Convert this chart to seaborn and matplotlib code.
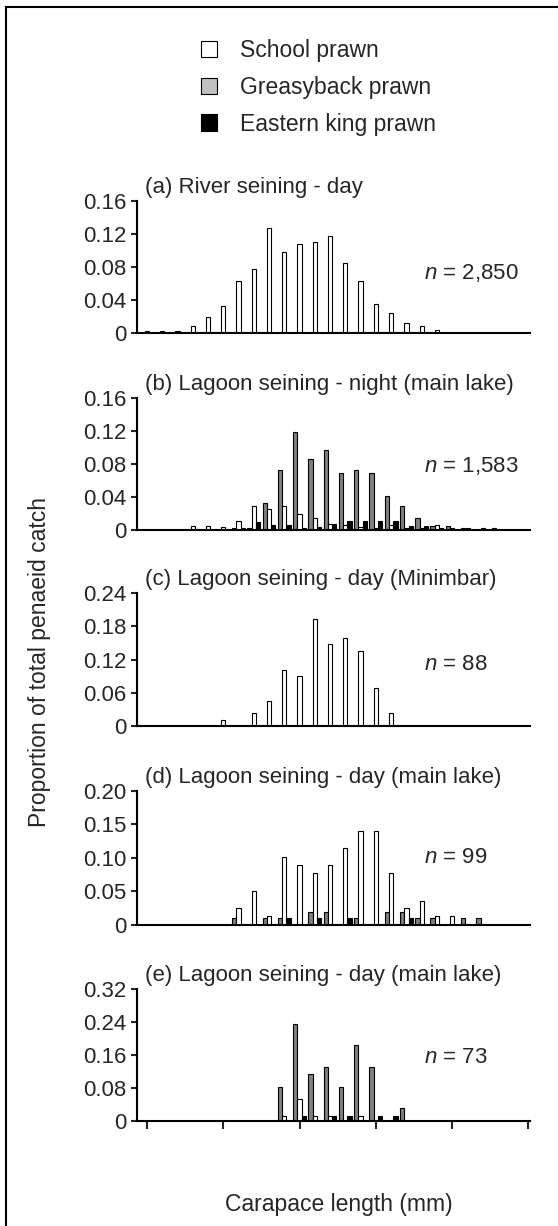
import matplotlib
matplotlib.use("Agg")
import matplotlib.pyplot as plt
from matplotlib.patches import Patch, Rectangle
import seaborn as sns
import pandas as pd
import numpy as np

sns.set_style("ticks")
plt.rcParams['font.family'] = ['Liberation Sans', 'DejaVu Sans']
plt.rcParams['mathtext.fontset'] = 'custom'
plt.rcParams['mathtext.it'] = 'Liberation Sans:italic'
plt.rcParams['mathtext.rm'] = 'Liberation Sans'

species = ["Greasyback prawn", "School prawn", "Eastern king prawn"]
legend_order = ["School prawn", "Greasyback prawn", "Eastern king prawn"]
bar_colors = {"School prawn": "#ffffff", "Greasyback prawn": "#808080", "Eastern king prawn": "#000000"}
legend_colors = {"School prawn": "#ffffff", "Greasyback prawn": "#c0c0c0", "Eastern king prawn": "#000000"}

n_bins = 26
bins = list(range(n_bins))
x_ticks = [0, 5, 10, 15, 20, 25]

titles = ["(a) River seining - day",
          "(b) Lagoon seining - night (main lake)",
          "(c) Lagoon seining - day (Minimbar)",
          "(d) Lagoon seining - day (main lake)",
          "(e) Lagoon seining - day (main lake)"]
n_labels = ["2,850", "1,583", "88", "99", "73"]
y_tops = [0.16, 0.16, 0.24, 0.20, 0.32]
y_ticks = [[0, 0.04, 0.08, 0.12, 0.16],
           [0, 0.04, 0.08, 0.12, 0.16],
           [0, 0.06, 0.12, 0.18, 0.24],
           [0, 0.05, 0.10, 0.15, 0.20],
           [0, 0.08, 0.16, 0.24, 0.32]]
y_ticklabels = [["0", "0.04", "0.08", "0.12", "0.16"],
                ["0", "0.04", "0.08", "0.12", "0.16"],
                ["0", "0.06", "0.12", "0.18", "0.24"],
                ["0", "0.05", "0.10", "0.15", "0.20"],
                ["0", "0.08", "0.16", "0.24", "0.32"]]

# (a) River seining - day : bins 0..19
a_bins = list(range(20))
a_school = [0.003, 0.0025, 0.0025, 0.009, 0.020, 0.033, 0.063, 0.078, 0.127, 0.098,
            0.108, 0.110, 0.117, 0.085, 0.063, 0.035, 0.024, 0.0125, 0.009, 0.004]

# (b) Lagoon seining - night (main lake) : bins 3..23
b_bins = list(range(3, 24))
b_greasy = [0, 0, 0, 0.002, 0.003, 0.033, 0.073, 0.119, 0.0855, 0.097, 0.0686,
            0.073, 0.0686, 0.041, 0.029, 0.015, 0.005, 0.005, 0.002, 0, 0.002]
b_school = [0.005, 0.005, 0.0035, 0.0105, 0.029, 0.026, 0.0295, 0.019, 0.015, 0.0073, 0.0065,
            0.004, 0.0025, 0.0065, 0.002, 0.002, 0.0065, 0.002, 0.002, 0.003, 0]
b_king = [0, 0, 0, 0.003, 0.0095, 0.006, 0.0065, 0.003, 0.004, 0.007, 0.0105,
          0.0105, 0.0105, 0.0105, 0.005, 0.005, 0.002, 0, 0, 0, 0]

# (c) Lagoon seining - day (Minimbar) : bins 5..16
c_bins = list(range(5, 17))
c_school = [0.0114, 0, 0.0227, 0.0455, 0.102, 0.091, 0.193, 0.148, 0.159, 0.136, 0.068, 0.0227]

# (d) Lagoon seining - day (main lake) : bins 6..22
d_bins = list(range(6, 23))
d_greasy = [0.0105, 0, 0.0105, 0.0105, 0, 0.0195, 0.0195, 0, 0.0105, 0, 0.0195,
            0.0195, 0.0105, 0.0105, 0, 0.0105, 0.0105]
d_school = [0.0245, 0.050, 0.013, 0.102, 0.089, 0.077, 0.089, 0.114, 0.140, 0.140, 0.077,
            0.0245, 0.036, 0.013, 0.013, 0, 0]
d_king = [0, 0, 0, 0.0105, 0, 0.0105, 0, 0.0105, 0, 0, 0,
          0.0105, 0, 0, 0, 0, 0]

# (e) Lagoon seining - day (main lake) : bins 9..17
e_bins = list(range(9, 18))
e_greasy = [0.084, 0.2345, 0.1145, 0.132, 0.084, 0.185, 0.132, 0, 0.033]
e_school = [0.0129, 0.054, 0.0129, 0.0129, 0, 0.0129, 0, 0, 0]
e_king = [0, 0.0129, 0, 0.0129, 0.0129, 0, 0.0129, 0.0129, 0]


def long_frame(bin_list, series):
    rows = []
    for sp, vals in series.items():
        for b, v in zip(bin_list, vals):
            if v > 0:
                rows.append({"bin": b, "species": sp, "value": v})
    return pd.DataFrame(rows)


panels = [
    long_frame(a_bins, {"School prawn": a_school}),
    long_frame(b_bins, {"Greasyback prawn": b_greasy, "School prawn": b_school, "Eastern king prawn": b_king}),
    long_frame(c_bins, {"School prawn": c_school}),
    long_frame(d_bins, {"Greasyback prawn": d_greasy, "School prawn": d_school, "Eastern king prawn": d_king}),
    long_frame(e_bins, {"Greasyback prawn": e_greasy, "School prawn": e_school, "Eastern king prawn": e_king}),
]

W, H = 558, 1226
fig = plt.figure(figsize=(W / 100, H / 100), dpi=100)

left_px, right_px = 137, 530
axes_px = [(200.7, 333.3), (397.7, 530.0), (593.3, 726.0), (791.0, 924.7), (989.0, 1121.3)]
n_ypos = [0.455, 0.48, 0.467, 0.506, 0.486]

for i, (df, (top, bot)) in enumerate(zip(panels, axes_px)):
    ax = fig.add_axes([left_px / W, 1 - bot / H, (right_px - left_px) / W, (bot - top) / H])
    sns.barplot(data=df, x="bin", y="value", hue="species", order=bins,
                hue_order=species, palette=bar_colors, width=0.84, dodge=True,
                edgecolor="black", linewidth=0.8, errorbar=None,
                legend=False, ax=ax)
    ax.set_xlim(-0.65, 25.1)
    ax.set_ylim(0, y_tops[i])
    ax.set_yticks(y_ticks[i])
    ax.set_yticklabels(y_ticklabels[i], fontsize=16)
    ax.set_xlabel("")
    ax.set_ylabel("")
    if i == 4:
        ax.set_xticks(x_ticks)
        ax.set_xticklabels([""] * len(x_ticks))
        ax.tick_params(axis="x", length=6, width=1.5, direction="out")
    else:
        ax.set_xticks([])
    ax.tick_params(axis="y", length=4.5, width=1.5, pad=3, direction="out")
    for s in ["top", "right"]:
        ax.spines[s].set_visible(False)
    for s in ["left", "bottom"]:
        ax.spines[s].set_linewidth(1.5)
        ax.spines[s].set_color("black")
    ax.text(0.02, 1.06, titles[i], transform=ax.transAxes, fontsize=16,
            ha="left", va="baseline")
    ax.text(0.73, n_ypos[i], "$n$ = " + n_labels[i], transform=ax.transAxes,
            fontsize=16, ha="left", va="center")
    ax.grid(False)

# legend
handles = [Patch(facecolor=legend_colors[s], edgecolor="black", linewidth=0.8) for s in legend_order]
fig.legend(handles, legend_order, loc="upper left",
           bbox_to_anchor=(201 / W, 1 - 39 / H), frameon=False, fontsize=16.5,
           handlelength=0.7, handleheight=0.7, handletextpad=1.0,
           labelspacing=0.6, borderpad=0, borderaxespad=0)

fig.text(339 / W, 1 - 1204 / H, "Carapace length (mm)", ha="center", va="center", fontsize=16.5)
fig.text(40 / W, 1 - 662 / H, "Proportion of total penaeid catch", ha="center", va="center",
         rotation=90, fontsize=16.5)

fig.add_artist(Rectangle((6 / W, -0.05), 1.2, 1.05 - 7 / H, transform=fig.transFigure,
                         fill=False, edgecolor="black", linewidth=1.5))

fig.savefig("out.png", dpi=100)
